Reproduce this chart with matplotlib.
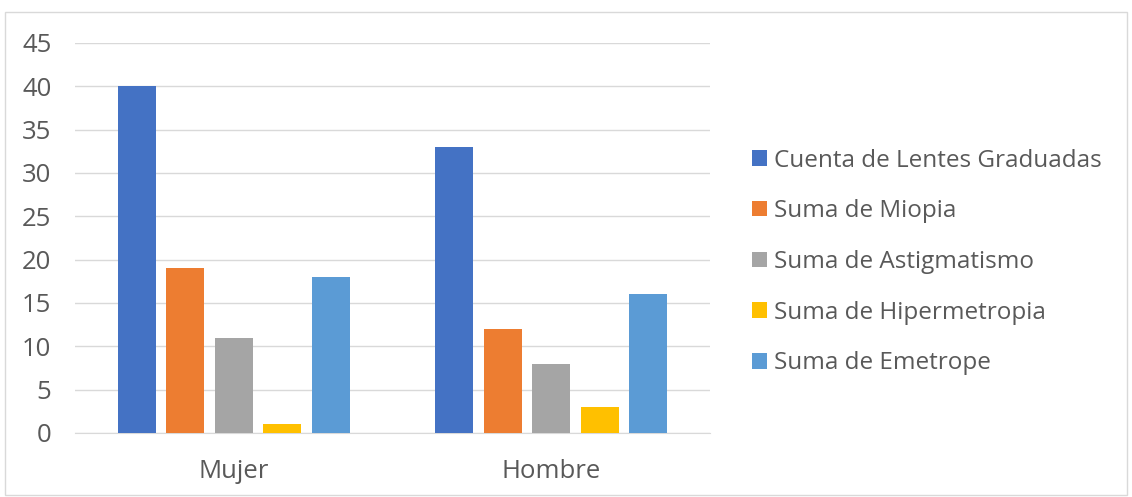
import matplotlib.pyplot as plt
from matplotlib.patches import Rectangle
import numpy as np

plt.rcParams['font.family'] = ['Open Sans', 'DejaVu Sans']

categories = ['Mujer', 'Hombre']
series_names = ['Cuenta de Lentes Graduadas', 'Suma de Miopia', 'Suma de Astigmatismo',
                'Suma de Hipermetropia', 'Suma de Emetrope']
lentes = [40, 33]
miopia = [19, 12]
astigmatismo = [11, 8]
hipermetropia = [1, 3]
emetrope = [18, 16]
colors = ['#4472C4', '#ED7D31', '#A5A5A5', '#FFC000', '#5B9BD5']

W, H = 1132, 497
fig = plt.figure(figsize=(W / 100, H / 100), dpi=100)
ax = fig.add_axes([75 / W, 1 - 433 / H, 635 / W, 390 / H])

# outer chart frame
fig.patches.append(Rectangle((5 / W, 2 / H), 1122 / W, 483 / H, transform=fig.transFigure,
                             fill=False, edgecolor='#d9d9d9', linewidth=1))

x = np.arange(len(categories))
step = 0.153
width = 0.12
for i, vals in enumerate([lentes, miopia, astigmatismo, hipermetropia, emetrope]):
    ax.bar(x + (i - 2) * step, vals, width, color=colors[i], label=series_names[i], zorder=3)

ax.set_xlim(-0.5, 1.5)
ax.set_ylim(0, 45)
ax.set_yticks(range(0, 50, 5))
ax.set_xticks(x)
ax.set_xticklabels(categories)
ax.grid(axis='y', color='#d9d9d9', linewidth=1, zorder=0)
for s in ['top', 'right', 'left']:
    ax.spines[s].set_visible(False)
ax.spines['bottom'].set_color('#d9d9d9')
ax.tick_params(axis='both', length=0, labelsize=18.5, colors='#595959')
ax.tick_params(axis='y', pad=17)
ax.tick_params(axis='x', pad=19)

leg = fig.legend(loc='center left', bbox_to_anchor=(752 / W, 1 - 262 / H), frameon=False,
                 fontsize=17.5, labelspacing=1.1, handlelength=0.6, handleheight=0.6,
                 handletextpad=0.3, borderpad=0, borderaxespad=0)
for t in leg.get_texts():
    t.set_color('#595959')

fig.savefig('out.png', dpi=100, facecolor='white')
